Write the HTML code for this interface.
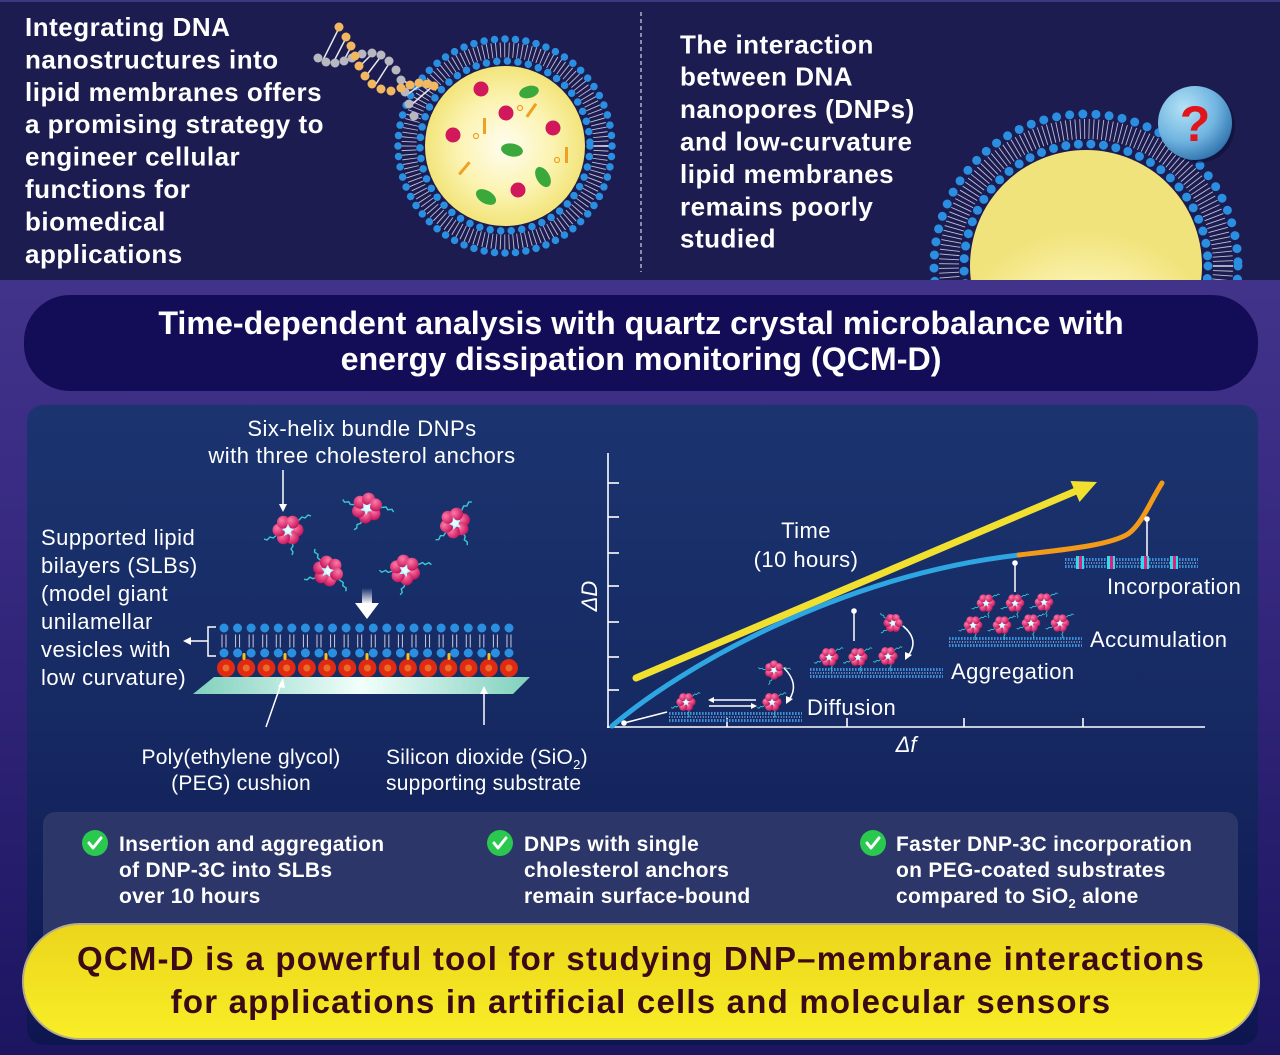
<!DOCTYPE html>
<html><head><meta charset="utf-8">
<style>
html,body{margin:0;padding:0;background:#1d1c50;}
svg{display:block;}
.b{font-family:"Liberation Sans",Arial,sans-serif;font-weight:bold;fill:#fff;}
.r{font-family:"Liberation Sans",Arial,sans-serif;fill:#fff;}
</style></head>
<body>
<svg width="1280" height="1055" viewBox="0 0 1280 1055" xmlns="http://www.w3.org/2000/svg">
<defs>
  <linearGradient id="purp" x1="0" y1="0" x2="0" y2="1">
    <stop offset="0" stop-color="#4c3c93"/>
    <stop offset="0.45" stop-color="#3a2c84"/>
    <stop offset="1" stop-color="#1c1560"/>
  </linearGradient>
  <linearGradient id="panel" x1="0" y1="0" x2="0" y2="1">
    <stop offset="0" stop-color="#1b3470"/>
    <stop offset="0.5" stop-color="#162962"/>
    <stop offset="1" stop-color="#0e1650"/>
  </linearGradient>
  <linearGradient id="yel" x1="0" y1="0" x2="0" y2="1">
    <stop offset="0" stop-color="#ecd51c"/>
    <stop offset="1" stop-color="#f8ee26"/>
  </linearGradient>
  <radialGradient id="yolk" cx="0.5" cy="0.5" r="0.5">
    <stop offset="0" stop-color="#fffdf0"/>
    <stop offset="0.6" stop-color="#fbf3b0"/>
    <stop offset="1" stop-color="#f2e47a"/>
  </radialGradient>
  <radialGradient id="yolk2" cx="0.5" cy="0.95" r="0.6">
    <stop offset="0" stop-color="#fffef4"/>
    <stop offset="0.6" stop-color="#fbf2ae"/>
    <stop offset="1" stop-color="#f1e37c"/>
  </radialGradient>
  <radialGradient id="qb" cx="0.35" cy="0.3" r="0.75">
    <stop offset="0" stop-color="#b4e2f6"/>
    <stop offset="0.6" stop-color="#6fb4e0"/>
    <stop offset="1" stop-color="#2f73ac"/>
  </radialGradient>
  <radialGradient id="petal" cx="0.35" cy="0.35" r="0.7">
    <stop offset="0" stop-color="#ff7aa8"/>
    <stop offset="1" stop-color="#c4145a"/>
  </radialGradient>
  <linearGradient id="sub" x1="0" y1="0" x2="1" y2="0">
    <stop offset="0" stop-color="#7fd0bd"/>
    <stop offset="0.5" stop-color="#f2fffb"/>
    <stop offset="1" stop-color="#7fd0bd"/>
  </linearGradient>
  <linearGradient id="darr" x1="0" y1="0" x2="0" y2="1">
    <stop offset="0" stop-color="#fff" stop-opacity="0"/>
    <stop offset="1" stop-color="#fff"/>
  </linearGradient>
  <clipPath id="topclip"><rect x="0" y="0" width="1280" height="280"/></clipPath>

  <g id="dnp">
    <path d="M10,-9 l4,-4 l3,1 l3,-3 l3,1" stroke="#3ccad0" stroke-width="1.4" fill="none"/>
    <path d="M-11,5 l-4,3 l-3,-1 l-3,3 l-3,-1" stroke="#3ccad0" stroke-width="1.4" fill="none"/>
    <path d="M4,12 l1,4 l-2,3 l2,3 l-1,3" stroke="#3ccad0" stroke-width="1.4" fill="none"/>
    <circle cx="9" cy="0" r="6.5" fill="url(#petal)"/>
    <circle cx="4.5" cy="7.8" r="6.5" fill="url(#petal)"/>
    <circle cx="-4.5" cy="7.8" r="6.5" fill="url(#petal)"/>
    <circle cx="-9" cy="0" r="6.5" fill="url(#petal)"/>
    <circle cx="-4.5" cy="-7.8" r="6.5" fill="url(#petal)"/>
    <circle cx="4.5" cy="-7.8" r="6.5" fill="url(#petal)"/>
    <polygon points="0,-6 2,-2 6,-1 3,2 4,6 0,4 -4,6 -3,2 -6,-1 -2,-2" fill="#b8f6ff"/>
    <circle r="3" fill="#e8fdff"/>
  </g>

  <g id="strip">
    <line x1="0" y1="1.5" x2="133" y2="1.5" stroke="#3a8fd8" stroke-width="3" stroke-dasharray="1.6 1.4"/>
    <line x1="0" y1="5" x2="133" y2="5" stroke="#9cc4ee" stroke-width="2" stroke-dasharray="1 1.6" opacity="0.7"/>
    <line x1="0" y1="8.5" x2="133" y2="8.5" stroke="#3a8fd8" stroke-width="3" stroke-dasharray="1.6 1.4"/>
  </g>
</defs>

<!-- backgrounds -->
<rect x="0" y="0" width="1280" height="1055" fill="url(#purp)"/>
<rect x="0" y="0" width="1280" height="280" fill="#1d1c50"/>
<rect x="0" y="0" width="1280" height="2" fill="#3f3782"/>

<!-- TOP LEFT TEXT -->
<g class="b" font-size="26" letter-spacing="0.5">
  <text x="25" y="36">Integrating DNA</text>
  <text x="25" y="68.4">nanostructures into</text>
  <text x="25" y="100.8">lipid membranes offers</text>
  <text x="25" y="133.2">a promising strategy to</text>
  <text x="25" y="165.6">engineer cellular</text>
  <text x="25" y="198">functions for</text>
  <text x="25" y="230.4">biomedical</text>
  <text x="25" y="262.8">applications</text>
</g>

<!-- vesicle top-left -->
<g>
  <circle cx="505" cy="146" r="96" fill="none" stroke="#dcdcec" stroke-width="15" stroke-dasharray="0.9 3.4" opacity="0.85"/>
  <circle cx="505" cy="146" r="107" fill="none" stroke="#2a8fe0" stroke-width="7.5" stroke-dasharray="0 10.5" stroke-linecap="round"/>
  <circle cx="505" cy="146" r="85" fill="none" stroke="#2a8fe0" stroke-width="7.5" stroke-dasharray="0 10.6" stroke-linecap="round"/>
  <circle cx="505" cy="146" r="80" fill="url(#yolk)"/>
  <circle cx="481" cy="89" r="7.5" fill="#d0185a"/>
  <circle cx="506" cy="113" r="7.5" fill="#d0185a"/>
  <circle cx="453" cy="135" r="7.5" fill="#d0185a"/>
  <circle cx="553" cy="128" r="7.5" fill="#d0185a"/>
  <circle cx="518" cy="190" r="7.5" fill="#d0185a"/>
  <ellipse cx="529" cy="92" rx="10" ry="6" fill="#3aa83a" transform="rotate(-15 529 92)"/>
  <ellipse cx="512" cy="150" rx="11" ry="6.5" fill="#3aa83a" transform="rotate(10 512 150)"/>
  <ellipse cx="543" cy="177" rx="11" ry="6.5" fill="#3aa83a" transform="rotate(60 543 177)"/>
  <ellipse cx="486" cy="197" rx="11" ry="6.5" fill="#3aa83a" transform="rotate(30 486 197)"/>
  <rect x="530" y="102" width="3" height="16" fill="#f0a020" transform="rotate(35 531 110)"/>
  <rect x="483" y="118" width="3" height="16" fill="#f0a020"/>
  <rect x="565" y="147" width="3" height="16" fill="#f0a020"/>
  <rect x="463" y="160" width="3" height="16" fill="#f0a020" transform="rotate(40 464 168)"/>
  <circle cx="520" cy="108" r="2.5" fill="none" stroke="#f0a020" stroke-width="1.2"/>
  <circle cx="476" cy="136" r="2.5" fill="none" stroke="#f0a020" stroke-width="1.2"/>
  <circle cx="557" cy="160" r="2.5" fill="none" stroke="#f0a020" stroke-width="1.2"/>
</g>
<!-- DNA helix -->
<g>
  <g stroke="#e8e8f0" stroke-width="1.5">
    <line x1="339" y1="28" x2="323" y2="60"/>
    <line x1="346" y1="38" x2="333" y2="63"/>
    <line x1="351" y1="47" x2="343" y2="62"/>
    <line x1="360" y1="66" x2="373" y2="53"/>
    <line x1="366" y1="76" x2="382" y2="55"/>
    <line x1="376" y1="84" x2="390" y2="62"/>
    <line x1="410" y1="85" x2="400" y2="78"/>
    <line x1="422" y1="84" x2="405" y2="96"/>
    <line x1="433" y1="86" x2="410" y2="106"/>
  </g>
  <g fill="#b8b8c0">
    <circle cx="318" cy="58" r="4.5"/><circle cx="326" cy="62" r="4.5"/><circle cx="335" cy="63" r="4.5"/>
    <circle cx="344" cy="61" r="4.5"/><circle cx="352" cy="58" r="4.5"/><circle cx="362" cy="54" r="4.5"/>
    <circle cx="372" cy="53" r="4.5"/><circle cx="381" cy="55" r="4.5"/><circle cx="389" cy="61" r="4.5"/>
    <circle cx="396" cy="70" r="4.5"/><circle cx="401" cy="80" r="4.5"/><circle cx="405" cy="92" r="4.5"/>
    <circle cx="409" cy="104" r="4.5"/><circle cx="414" cy="116" r="4.5"/>
  </g>
  <g fill="#f2b860">
    <circle cx="339" cy="27" r="4.5"/><circle cx="346" cy="37" r="4.5"/><circle cx="351" cy="46" r="4.5"/>
    <circle cx="355" cy="56" r="4.5"/><circle cx="359" cy="66" r="4.5"/><circle cx="365" cy="76" r="4.5"/>
    <circle cx="372" cy="84" r="4.5"/><circle cx="381" cy="89" r="4.5"/><circle cx="391" cy="91" r="4.5"/>
    <circle cx="401" cy="88" r="4.5"/><circle cx="410" cy="85" r="4.5"/><circle cx="419" cy="83" r="4.5"/>
    <circle cx="427" cy="84" r="4.5"/><circle cx="434" cy="86" r="4.5"/>
  </g>
</g>

<!-- divider -->
<line x1="641" y1="12" x2="641" y2="272" stroke="#c8c8dc" stroke-width="1.3" stroke-dasharray="4 3"/>

<!-- TOP RIGHT TEXT -->
<g class="b" font-size="26" letter-spacing="0.5">
  <text x="680" y="53.3">The interaction</text>
  <text x="680" y="85.7">between DNA</text>
  <text x="680" y="118.1">nanopores (DNPs)</text>
  <text x="680" y="150.5">and low-curvature</text>
  <text x="680" y="182.9">lipid membranes</text>
  <text x="680" y="215.3">remains poorly</text>
  <text x="680" y="247.7">studied</text>
</g>

<!-- half vesicle top right -->
<g clip-path="url(#topclip)">
  <circle cx="1086" cy="266" r="137" fill="none" stroke="#dcdcec" stroke-width="20" stroke-dasharray="0.9 3.6" opacity="0.85"/>
  <circle cx="1086" cy="266" r="152" fill="none" stroke="#2a8fe0" stroke-width="9" stroke-dasharray="0 13.2" stroke-linecap="round"/>
  <circle cx="1086" cy="266" r="122" fill="none" stroke="#2a8fe0" stroke-width="9" stroke-dasharray="0 12.6" stroke-linecap="round"/>
  <circle cx="1086" cy="266" r="116" fill="url(#yolk2)"/>
</g>
<circle cx="1198" cy="126" r="37" fill="#0c0c30" opacity="0.5"/>
<circle cx="1195" cy="123" r="37" fill="url(#qb)"/>
<text x="1195" y="141" text-anchor="middle" class="b" font-size="50" style="fill:#e2141c">?</text>

<!-- TITLE PILL -->
<rect x="24" y="295" width="1234" height="96" rx="46" fill="#130d58"/>
<g class="b" font-size="32.2" text-anchor="middle">
  <text x="641" y="334">Time-dependent analysis with quartz crystal microbalance with</text>
  <text x="641" y="370">energy dissipation monitoring (QCM-D)</text>
</g>

<!-- MIDDLE PANEL -->
<rect x="27" y="405" width="1231" height="640" rx="16" fill="url(#panel)"/>

<!-- left illustration text -->
<g class="r" font-size="22" letter-spacing="0.5">
  <text x="362" y="436" text-anchor="middle">Six-helix bundle DNPs</text>
  <text x="362" y="463" text-anchor="middle">with three cholesterol anchors</text>
  <text x="41" y="545">Supported lipid</text>
  <text x="41" y="573">bilayers (SLBs)</text>
  <text x="41" y="601">(model giant</text>
  <text x="41" y="629">unilamellar</text>
  <text x="41" y="657">vesicles with</text>
  <text x="41" y="685">low curvature)</text>
</g>
<g class="r" font-size="21" letter-spacing="0.25">
  <text x="241" y="764" text-anchor="middle">Poly(ethylene glycol)</text>
  <text x="241" y="790" text-anchor="middle">(PEG) cushion</text>
  <text x="386" y="764">Silicon dioxide (SiO<tspan font-size="13" dy="5">2</tspan><tspan dy="-5">)</tspan></text>
  <text x="386" y="790">supporting substrate</text>
</g>

<!-- label arrow -->
<line x1="283" y1="470" x2="283" y2="506" stroke="#fff" stroke-width="1.5"/>
<polygon points="279,504 287,504 283,512" fill="#fff"/>

<!-- free DNPs -->
<use href="#dnp" transform="translate(288,530)"/>
<use href="#dnp" transform="translate(367,508) rotate(40)"/>
<use href="#dnp" transform="translate(455,523) rotate(-20)"/>
<use href="#dnp" transform="translate(328,571) rotate(80)"/>
<use href="#dnp" transform="translate(405,570) rotate(20)"/>

<!-- down arrow -->
<rect x="362" y="588" width="10" height="16" fill="url(#darr)"/>
<polygon points="355,603 379,603 367,619" fill="#fff"/>

<!-- SLB -->
<line x1="221.5" y1="641" x2="512" y2="641" stroke="#e6e6f2" stroke-width="13" stroke-dasharray="1 3 1 8.57" opacity="0.85"/>
<line x1="224" y1="628" x2="510" y2="628" stroke="#2a8fe0" stroke-width="9" stroke-dasharray="0 13.57" stroke-linecap="round"/>
<line x1="224" y1="653" x2="510" y2="653" stroke="#2a8fe0" stroke-width="9" stroke-dasharray="0 13.57" stroke-linecap="round"/>
<polygon points="214,677 530,677 513,694 193,694" fill="url(#sub)"/>
<line x1="226" y1="668" x2="510" y2="668" stroke="#e02a12" stroke-width="18" stroke-dasharray="0 20.21" stroke-linecap="round"/>
<line x1="226" y1="668" x2="510" y2="668" stroke="#f5a23a" stroke-width="7" stroke-dasharray="0 20.21" stroke-linecap="round" opacity="0.55"/>
<g fill="#f5c020">
  <rect x="242.5" y="653" width="3" height="7" rx="1.5"/>
  <rect x="283.5" y="653" width="3" height="7" rx="1.5"/>
  <rect x="324.5" y="653" width="3" height="7" rx="1.5"/>
  <rect x="365.5" y="653" width="3" height="7" rx="1.5"/>
  <rect x="406.5" y="653" width="3" height="7" rx="1.5"/>
  <rect x="447.5" y="653" width="3" height="7" rx="1.5"/>
  <rect x="487.5" y="653" width="3" height="7" rx="1.5"/>
</g>
<!-- bracket -->
<polyline points="216,627 208,627 208,656 216,656" fill="none" stroke="#fff" stroke-width="1.5"/>
<line x1="208" y1="641" x2="190" y2="641" stroke="#fff" stroke-width="1.5"/>
<polygon points="183,641 191,637 191,645" fill="#fff"/>
<!-- PEG / SiO2 pointers -->
<line x1="266" y1="727" x2="281" y2="684" stroke="#fff" stroke-width="1.5"/>
<polygon points="283,678 278,687 285,688" fill="#fff"/>
<line x1="484" y1="725" x2="484" y2="692" stroke="#fff" stroke-width="1.5"/>
<polygon points="484,686 480,694 488,694" fill="#fff"/>

<!-- CHART -->
<g stroke="#fff" stroke-width="1.6">
  <line x1="608" y1="453" x2="608" y2="728"/>
  <line x1="607" y1="727" x2="1205" y2="727"/>
  <line x1="608" y1="483" x2="619" y2="483"/>
  <line x1="608" y1="517" x2="619" y2="517"/>
  <line x1="608" y1="553" x2="619" y2="553"/>
  <line x1="608" y1="586" x2="619" y2="586"/>
  <line x1="608" y1="622" x2="619" y2="622"/>
  <line x1="608" y1="657" x2="619" y2="657"/>
  <line x1="608" y1="690" x2="619" y2="690"/>
  <line x1="727" y1="727" x2="727" y2="718"/>
  <line x1="847" y1="727" x2="847" y2="718"/>
  <line x1="964" y1="727" x2="964" y2="718"/>
  <line x1="1083" y1="727" x2="1083" y2="718"/>
</g>
<text x="597" y="596" class="r" font-size="22" font-style="italic" text-anchor="middle" transform="rotate(-90 597 596)">ΔD</text>
<text x="906" y="752" class="r" font-size="22" font-style="italic" text-anchor="middle">Δf</text>

<!-- yellow arrow -->
<line x1="636" y1="678" x2="1076" y2="491" stroke="#f1e030" stroke-width="7" stroke-linecap="round"/>
<polygon points="1097,482 1079.5,502 1070.5,481" fill="#f1e030"/>

<!-- curve -->
<path d="M612,726 C680,668 840,575 1019,555" fill="none" stroke="#2ea6e2" stroke-width="5" stroke-linecap="round"/>
<path d="M1019,555 C1060,550 1108,546 1128,534 C1142,524 1150,502 1162,483" fill="none" stroke="#f39a1a" stroke-width="5" stroke-linecap="round"/>

<g class="r" font-size="22" letter-spacing="0.45">
  <text x="806" y="538" text-anchor="middle">Time</text>
  <text x="806" y="567" text-anchor="middle">(10 hours)</text>
  <text x="1107" y="594">Incorporation</text>
  <text x="1090" y="647">Accumulation</text>
  <text x="951" y="679">Aggregation</text>
  <text x="807" y="715">Diffusion</text>
</g>

<!-- pointers -->
<g stroke="#fff" stroke-width="1.5" fill="#fff">
  <line x1="624" y1="723" x2="667" y2="712"/><circle cx="624" cy="723" r="2.8" stroke="none"/>
  <line x1="854" y1="611" x2="854" y2="641"/><circle cx="854" cy="611" r="2.8" stroke="none"/>
  <line x1="1015" y1="563" x2="1015" y2="592"/><circle cx="1015" cy="563" r="2.8" stroke="none"/>
  <line x1="1147" y1="519" x2="1147" y2="556"/><circle cx="1147" cy="519" r="2.8" stroke="none"/>
</g>

<!-- strips -->
<use href="#strip" transform="translate(669,712)"/>
<use href="#strip" transform="translate(810,668)"/>
<use href="#strip" transform="translate(949,637)"/>
<use href="#strip" transform="translate(1065,558)"/>
<g>
  <rect x="1076" y="556" width="8" height="13" fill="#30dcec"/><rect x="1079" y="556" width="3" height="13" fill="#e0207a"/>
  <rect x="1107" y="556" width="8" height="13" fill="#30dcec"/><rect x="1110" y="556" width="3" height="13" fill="#e0207a"/>
  <rect x="1141" y="556" width="8" height="13" fill="#30dcec"/><rect x="1144" y="556" width="3" height="13" fill="#e0207a"/>
  <rect x="1170" y="556" width="8" height="13" fill="#30dcec"/><rect x="1173" y="556" width="3" height="13" fill="#e0207a"/>
</g>

<!-- chart DNPs -->
<use href="#dnp" transform="translate(686,702) scale(0.62)"/>
<use href="#dnp" transform="translate(774,670) scale(0.62) rotate(30)"/>
<use href="#dnp" transform="translate(772,702) scale(0.62)"/>
<use href="#dnp" transform="translate(829,657) scale(0.62)"/>
<use href="#dnp" transform="translate(858,657) scale(0.62)"/>
<use href="#dnp" transform="translate(888,656) scale(0.62)"/>
<use href="#dnp" transform="translate(893,623) scale(0.62) rotate(60)"/>
<use href="#dnp" transform="translate(986,603) scale(0.6)"/>
<use href="#dnp" transform="translate(1015,603) scale(0.6)"/>
<use href="#dnp" transform="translate(1044,602) scale(0.6)"/>
<use href="#dnp" transform="translate(973,625) scale(0.6)"/>
<use href="#dnp" transform="translate(1002,625) scale(0.6)"/>
<use href="#dnp" transform="translate(1031,623) scale(0.6)"/>
<use href="#dnp" transform="translate(1060,623) scale(0.6)"/>

<!-- small arrows -->
<g stroke="#fff" stroke-width="1.5" fill="none">
  <line x1="712" y1="700" x2="756" y2="700"/>
  <line x1="709" y1="706" x2="753" y2="706"/>
  <path d="M784,668 Q800,684 789,700"/>
  <path d="M903,626 Q920,640 908,656"/>
</g>
<g fill="#fff">
  <polygon points="708,700 714,697 714,703"/>
  <polygon points="757,706 751,703 751,709"/>
  <polygon points="786,704 786,696 793,699"/>
  <polygon points="905,660 905,652 912,655"/>
</g>

<!-- BOTTOM PANEL -->
<rect x="43" y="812" width="1195" height="150" rx="12" fill="#2d3668"/>
<g>
  <circle cx="95" cy="843" r="13" fill="#2ac84e"/>
  <circle cx="500" cy="843" r="13" fill="#2ac84e"/>
  <circle cx="873" cy="843" r="13" fill="#2ac84e"/>
  <g stroke="#fff" stroke-width="3" fill="none" stroke-linecap="round" stroke-linejoin="round">
    <path d="M89,843 L93,848 L101,838"/>
    <path d="M494,843 L498,848 L506,838"/>
    <path d="M867,843 L871,848 L879,838"/>
  </g>
</g>
<g class="b" font-size="21" letter-spacing="0.3">
  <text x="119" y="851">Insertion and aggregation</text>
  <text x="119" y="877">of DNP-3C into SLBs</text>
  <text x="119" y="903">over 10 hours</text>
  <text x="524" y="851">DNPs with single</text>
  <text x="524" y="877">cholesterol anchors</text>
  <text x="524" y="903">remain surface-bound</text>
  <text x="896" y="851">Faster DNP-3C incorporation</text>
  <text x="896" y="877">on PEG-coated substrates</text>
  <text x="896" y="903">compared to SiO<tspan font-size="13" dy="5">2</tspan><tspan dy="-5"> alone</tspan></text>
</g>

<!-- YELLOW PILL -->
<rect x="23" y="924" width="1236" height="115" rx="57" fill="url(#yel)" stroke="#b4ae8a" stroke-width="2"/>
<g class="b" font-size="33" letter-spacing="1.2" text-anchor="middle" style="fill:#3a0a16">
  <text x="641" y="970">QCM-D is a powerful tool for studying DNP–membrane interactions</text>
  <text x="641" y="1013">for applications in artificial cells and molecular sensors</text>
</g>
</svg>
</body></html>
